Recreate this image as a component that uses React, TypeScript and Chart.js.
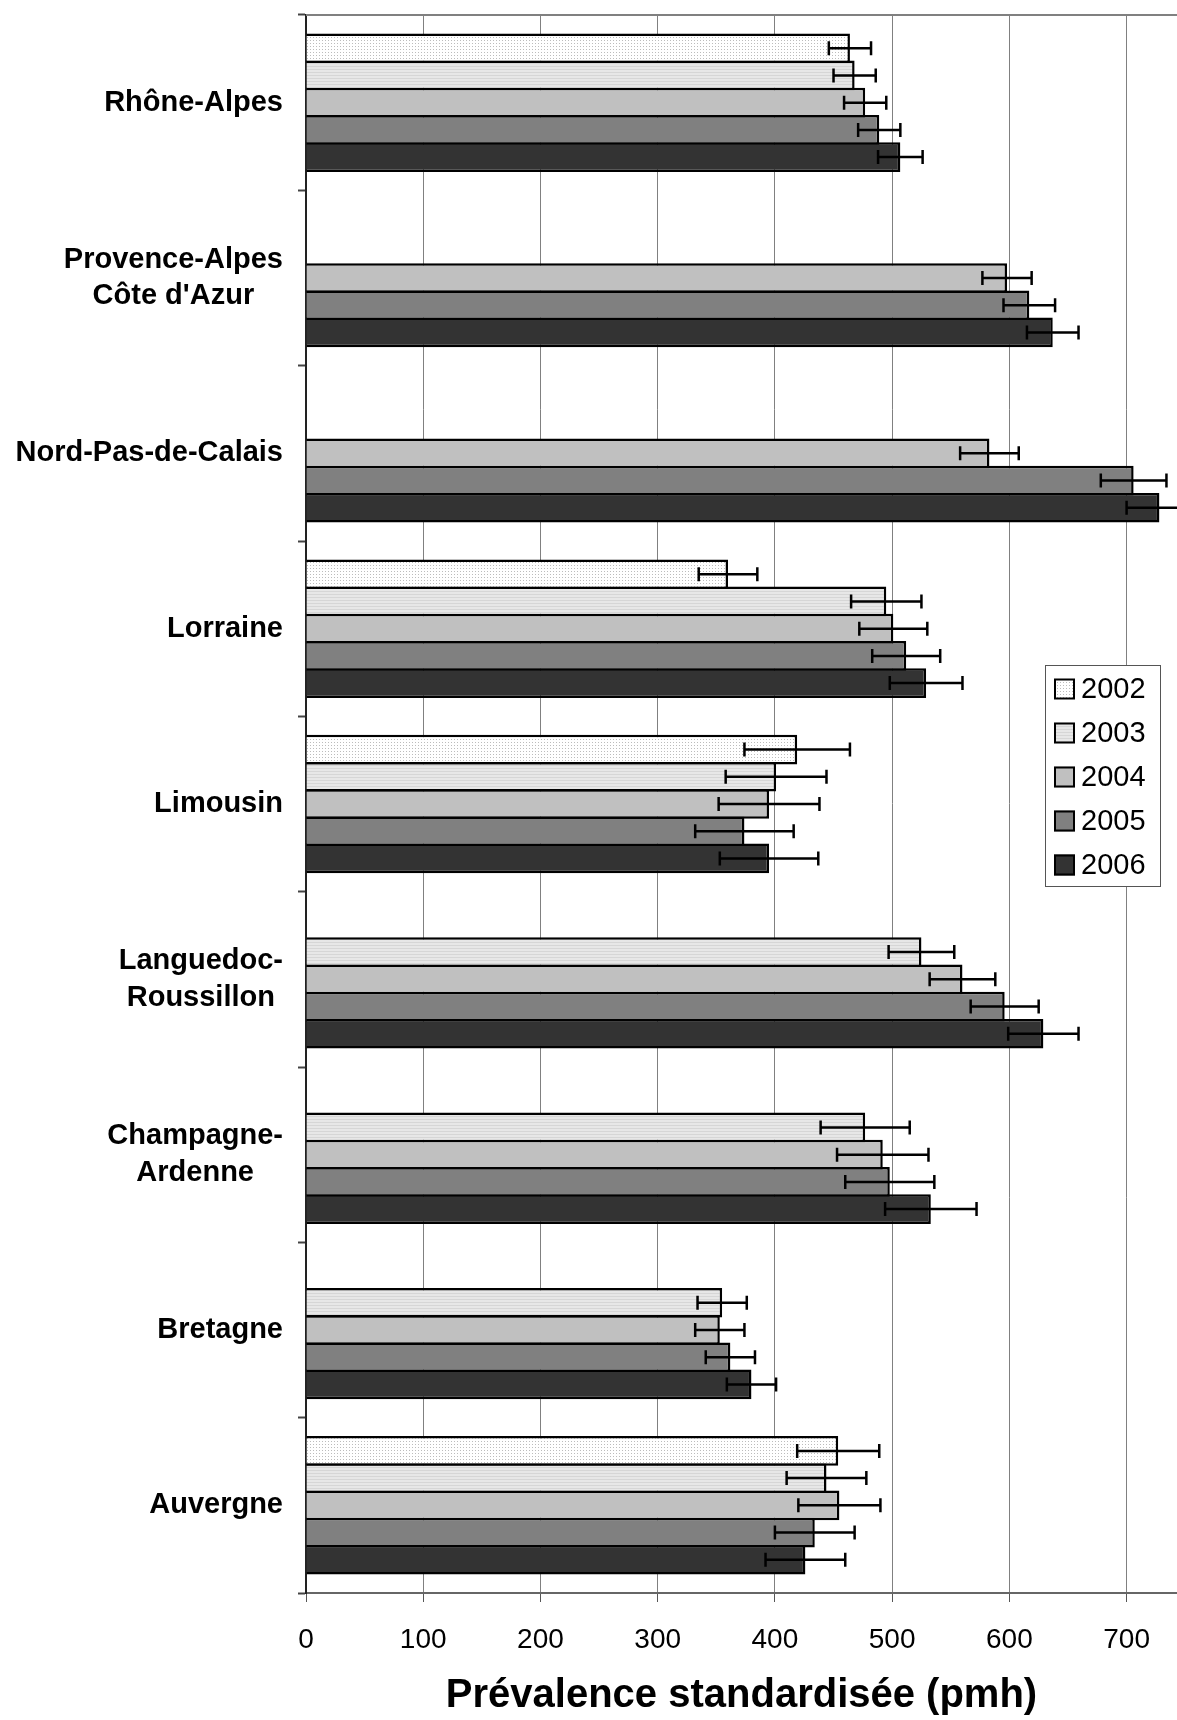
import React, { useEffect, useRef } from "react";
import { Chart, registerables } from "chart.js";

Chart.register(...registerables);

// ---- data ----
const regions: string[][] = [
  ["Rhône-Alpes"],
  ["Provence-Alpes", "Côte d'Azur"],
  ["Nord-Pas-de-Calais"],
  ["Lorraine"],
  ["Limousin"],
  ["Languedoc-", "Roussillon"],
  ["Champagne-", "Ardenne"],
  ["Bretagne"],
  ["Auvergne"],
];
const years = ["2002", "2003", "2004", "2005", "2006"];

const v2002 = [464, null, null, 360, 419, null, null, null, 454];
const v2003 = [468, null, null, 495, 401, 525, 477, 355, 444];
const v2004 = [477, 598, 583, 501, 395, 560, 492, 353, 455];
const v2005 = [489, 617, 706, 512, 374, 596, 498, 362, 434];
const v2006 = [507, 637, 728, 529, 395, 629, 533, 380, 426];

// half-width of the confidence interval
const e2002 = [18, null, null, 25, 45, null, null, null, 35];
const e2003 = [18, null, null, 30, 43, 28, 38, 21, 34];
const e2004 = [18, 21, 25, 29, 43, 28, 39, 21, 35];
const e2005 = [18, 22, 28, 29, 42, 29, 38, 21, 34];
const e2006 = [19, 22, 28, 31, 42, 30, 39, 21, 34];

const xMin = 0;
const xMax = 743;
const xStep = 100;
const xTitle = "Prévalence standardisée (pmh)";

const seriesValues = [v2002, v2003, v2004, v2005, v2006];
const seriesErrors = [e2002, e2003, e2004, e2005, e2006];

const FONT = '"Liberation Sans", Arial, Helvetica, sans-serif';

function makeDotPattern(): CanvasPattern | string {
  const c = document.createElement("canvas");
  c.width = 3;
  c.height = 3;
  const g = c.getContext("2d");
  if (!g) return "#f6f6f6";
  g.fillStyle = "#ffffff";
  g.fillRect(0, 0, 3, 3);
  g.fillStyle = "#bcbcbc";
  g.fillRect(1, 1, 1, 1);
  return g.createPattern(c, "repeat") || "#f6f6f6";
}

function makeStripePattern(): CanvasPattern | string {
  const c = document.createElement("canvas");
  c.width = 4;
  c.height = 3;
  const g = c.getContext("2d");
  if (!g) return "#e2e2e2";
  g.fillStyle = "#e7e7e7";
  g.fillRect(0, 0, 4, 3);
  g.fillStyle = "#d6d6d6";
  g.fillRect(0, 0, 4, 1);
  return g.createPattern(c, "repeat") || "#e2e2e2";
}

const errorBarPlugin = {
  id: "errorBars",
  afterDatasetsDraw(chart: any) {
    const ctx = chart.ctx;
    const xs = chart.scales.x;
    ctx.save();
    ctx.strokeStyle = "#000";
    ctx.lineWidth = 2.5;
    chart.data.datasets.forEach((ds: any, i: number) => {
      const meta = chart.getDatasetMeta(i);
      const errs = seriesErrors[i];
      meta.data.forEach((bar: any, j: number) => {
        const v = ds.data[j];
        const e = errs[j];
        if (v == null || e == null) return;
        const y = bar.y;
        const x1 = xs.getPixelForValue(v - e);
        const x2 = xs.getPixelForValue(v + e);
        ctx.beginPath();
        ctx.moveTo(x1, y);
        ctx.lineTo(x2, y);
        ctx.moveTo(x1, y - 7);
        ctx.lineTo(x1, y + 7);
        ctx.moveTo(x2, y - 7);
        ctx.lineTo(x2, y + 7);
        ctx.stroke();
      });
    });
    ctx.restore();
  },
};

const frameAndLabelsPlugin = {
  id: "frameAndLabels",
  afterDraw(chart: any) {
    const ctx = chart.ctx;
    const area = chart.chartArea;
    const ys = chart.scales.y;
    ctx.save();
    // top border of plot area
    ctx.strokeStyle = "#808080";
    ctx.lineWidth = 2;
    ctx.beginPath();
    ctx.moveTo(area.left, area.top);
    ctx.lineTo(area.right, area.top);
    ctx.stroke();

    // category labels: block right aligned, lines centered in block
    ctx.font = `bold 29px ${FONT}`;
    ctx.fillStyle = "#000";
    ctx.textAlign = "center";
    ctx.textBaseline = "middle";
    const right = area.left - 23;
    const lh = 36.7;
    (chart.data.labels as any[]).forEach((lab: any, i: number) => {
      const lines: string[] = Array.isArray(lab) ? lab : [lab];
      const w = Math.max(...lines.map((l) => ctx.measureText(l).width));
      const cx = right - w / 2;
      const cy = ys.getPixelForValue(i);
      lines.forEach((l, k) => {
        ctx.fillText(l, cx, cy + (k - (lines.length - 1) / 2) * lh);
      });
    });

    // legend
    const bx = 1045.5;
    const by = 665.5;
    const bw = 115;
    const bh = 221;
    ctx.fillStyle = "#fff";
    ctx.fillRect(bx, by, bw, bh);
    ctx.strokeStyle = "#555";
    ctx.lineWidth = 1;
    ctx.strokeRect(bx, by, bw, bh);
    ctx.font = `29px ${FONT}`;
    ctx.textAlign = "left";
    chart.data.datasets.forEach((ds: any, i: number) => {
      const cy = 689 + i * 44;
      ctx.fillStyle = ds.backgroundColor;
      ctx.fillRect(1054, cy - 10.5, 21, 21);
      ctx.strokeStyle = "#000";
      ctx.lineWidth = 2;
      ctx.strokeRect(1055, cy - 9.5, 19, 19);
      ctx.fillStyle = "#000";
      ctx.fillText(ds.label, 1081, cy + 1);
    });
    ctx.restore();
  },
};

export default function App() {
  const ref = useRef<HTMLCanvasElement | null>(null);

  useEffect(() => {
    if (!ref.current) return;
    const fills: any[] = [makeDotPattern(), makeStripePattern(), "#c0c0c0", "#808080", "#333333"];
    const chart = new Chart(ref.current, {
      type: "bar",
      data: {
        labels: regions as any,
        datasets: years.map((y, i) => ({
          label: y,
          data: seriesValues[i] as any,
          backgroundColor: fills[i],
          borderColor: "#000",
          borderWidth: 2.5,
          categoryPercentage: 0.776,
          barPercentage: 1.09,
        })),
      },
      options: {
        indexAxis: "y",
        responsive: false,
        animation: false,
        devicePixelRatio: 1,
        layout: { padding: { top: 15, right: 0, bottom: 0, left: 0 } },
        plugins: {
          legend: { display: false },
          tooltip: { enabled: false },
          title: { display: false },
        },
        scales: {
          x: {
            type: "linear",
            position: "bottom",
            min: xMin,
            max: xMax,
            ticks: {
              stepSize: xStep,
              includeBounds: false,
              padding: 21,
              color: "#000",
              font: { family: FONT, size: 28 },
            },
            grid: {
              color: "#808080",
              lineWidth: 1,
              drawTicks: true,
              tickLength: 9,
              tickColor: "#555",
            },
            border: { display: true, color: "#666", width: 2 },
            title: {
              display: true,
              text: xTitle,
              color: "#000",
              font: { family: FONT, size: 40, weight: "bold", lineHeight: 1.2 },
              padding: { top: 0, bottom: 0 },
            },
            afterFit: (scale: any) => {
              scale.height = 127;
            },
          },
          y: {
            type: "category",
            offset: true,
            ticks: { display: false },
            grid: {
              offset: true,
              drawOnChartArea: false,
              drawTicks: true,
              tickLength: 8,
              tickColor: "#444",
              tickWidth: 2,
            },
            border: { display: true, color: "#222", width: 2 },
            afterFit: (scale: any) => {
              scale.width = 306;
            },
          },
        },
      },
      plugins: [errorBarPlugin, frameAndLabelsPlugin],
    } as any);
    return () => chart.destroy();
  }, []);

  return (
    <div style={{ position: "absolute", left: 0, top: 0, width: 1177, height: 1720, background: "#fff" }}>
      <canvas ref={ref} width={1177} height={1720} style={{ display: "block" }} />
    </div>
  );
}
